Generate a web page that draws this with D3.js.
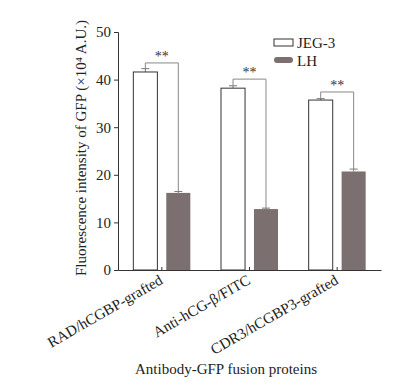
<!DOCTYPE html>
<html><head><meta charset="utf-8">
<script src="https://cdn.jsdelivr.net/npm/d3@7"></script>
<style>
body{margin:0;background:#fff;}
svg{display:block;font-family:"Liberation Serif","Times New Roman",serif;-webkit-font-smoothing:antialiased;}
</style></head>
<body><svg id="c" width="398" height="385"></svg>
<script>
const categories = ["RAD/hCGBP-grafted", "Anti-hCG-β/FITC", "CDR3/hCGBP3-grafted"];
const seriesNames = ["JEG-3", "LH"];
const jegValues = [41.6, 38.2, 35.7];
const jegErrors = [0.7, 0.5, 0.3];
const lhValues = [16.2, 12.8, 20.7];
const lhErrors = [0.3, 0.2, 0.5];
const bracketLevels = [43.5, 40.1, 37.4];
const sigLabels = ["**", "**", "**"];
const yTicks = [0, 10, 20, 30, 40, 50];
const yTitle = "Fluorescence intensity of GFP (×10⁴ A.U.)";
const xTitle = "Antibody-GFP fusion proteins";

const colors = {"JEG-3": "#ffffff", "LH": "#7b6f6f"};
const svg = d3.select("#c");
const m = {left: 118, right: 381, top: 32, bottom: 270};

const x = d3.scaleBand().domain(categories).range([m.left, m.right]).padding(0);
const sub = d3.scaleBand().domain(seriesNames).range([-28.5, 28.5]).paddingInner(0.27);
const y = d3.scaleLinear().domain([0, 50]).range([m.bottom, m.top]);

const rows = categories.map((c, i) => ({
  cat: c,
  bars: [
    {s: "JEG-3", v: jegValues[i], e: jegErrors[i]},
    {s: "LH", v: lhValues[i], e: lhErrors[i]}
  ],
  br: bracketLevels[i], sig: sigLabels[i]
}));

const cx = (c) => x(c) + x.bandwidth() / 2;

// bars
const g = svg.append("g");
rows.forEach(r => {
  r.bars.forEach(b => {
    const x0 = cx(r.cat) + sub(b.s);
    const bc = x0 + sub.bandwidth() / 2;
    g.append("line").attr("x1", bc).attr("x2", bc)
      .attr("y1", y(b.v)).attr("y2", y(b.v + b.e))
      .attr("stroke", "#777").attr("stroke-width", 1);
    g.append("line").attr("x1", bc - 4).attr("x2", bc + 4)
      .attr("y1", y(b.v + b.e)).attr("y2", y(b.v + b.e))
      .attr("stroke", "#777").attr("stroke-width", 1);
    g.append("rect")
      .attr("x", x0).attr("width", sub.bandwidth())
      .attr("y", y(b.v)).attr("height", y(0) - y(b.v))
      .attr("fill", colors[b.s])
      .attr("stroke", b.s === "JEG-3" ? "#333" : "none")
      .attr("stroke-width", 1);
  });
  const j = r.bars[0], l = r.bars[1];
  const xj = cx(r.cat) + sub(j.s) + sub.bandwidth() / 2;
  const xl = cx(r.cat) + sub(l.s) + sub.bandwidth() / 2;
  g.append("path")
    .attr("d", `M${xj},${y(j.v + j.e)}V${y(r.br)}H${xl}V${y(l.v + l.e)}`)
    .attr("fill", "none").attr("stroke", "#888").attr("stroke-width", 1);
  g.append("text").attr("x", (xj + xl) / 2).attr("y", y(r.br) - 2)
    .attr("text-anchor", "middle").attr("font-size", 14).attr("fill", "#333")
    .text(r.sig);
});

// axes
const yAxis = svg.append("g").attr("transform", `translate(${m.left},0)`)
  .call(d3.axisLeft(y).tickValues(yTicks).tickSize(4).tickPadding(3));
yAxis.select(".domain").attr("stroke", "#333");
yAxis.selectAll("line").attr("stroke", "#333");
yAxis.selectAll("text").attr("font-size", 15).attr("fill", "#222")
  .attr("font-family", "Liberation Serif");

const xAxis = svg.append("g").attr("transform", `translate(0,${m.bottom})`)
  .call(d3.axisBottom(x).tickSize(-3).tickSizeOuter(0).tickFormat(""));
xAxis.select(".domain").attr("stroke", "#333");
xAxis.selectAll("line").attr("stroke", "#333");

categories.forEach(c => {
  svg.append("text")
    .attr("transform", `translate(${cx(c) + 2},${m.bottom + 13}) rotate(-30)`)
    .attr("text-anchor", "end").attr("font-size", 15).attr("fill", "#222")
    .text(c);
});

svg.append("text")
  .attr("transform", `translate(86,148) rotate(-90)`)
  .attr("text-anchor", "middle").attr("font-size", 15).attr("fill", "#222")
  .text(yTitle);
svg.append("text").attr("x", 226).attr("y", 374)
  .attr("text-anchor", "middle").attr("font-size", 15).attr("fill", "#222")
  .text(xTitle);

const leg = svg.append("g");
seriesNames.forEach((s, i) => {
  const ly = 39 + i * 18;
  leg.append("rect").attr("x", 274).attr("y", ly).attr("width", 19).attr("height", s === "LH" ? 6 : 7)
    .attr("rx", s === "LH" ? 3 : 0)
    .attr("fill", colors[s]).attr("stroke", s === "LH" ? "none" : "#333");
  leg.append("text").attr("x", 297).attr("y", ly + 9).attr("font-size", 15).attr("fill", "#222").text(s);
});
</script></body></html>
